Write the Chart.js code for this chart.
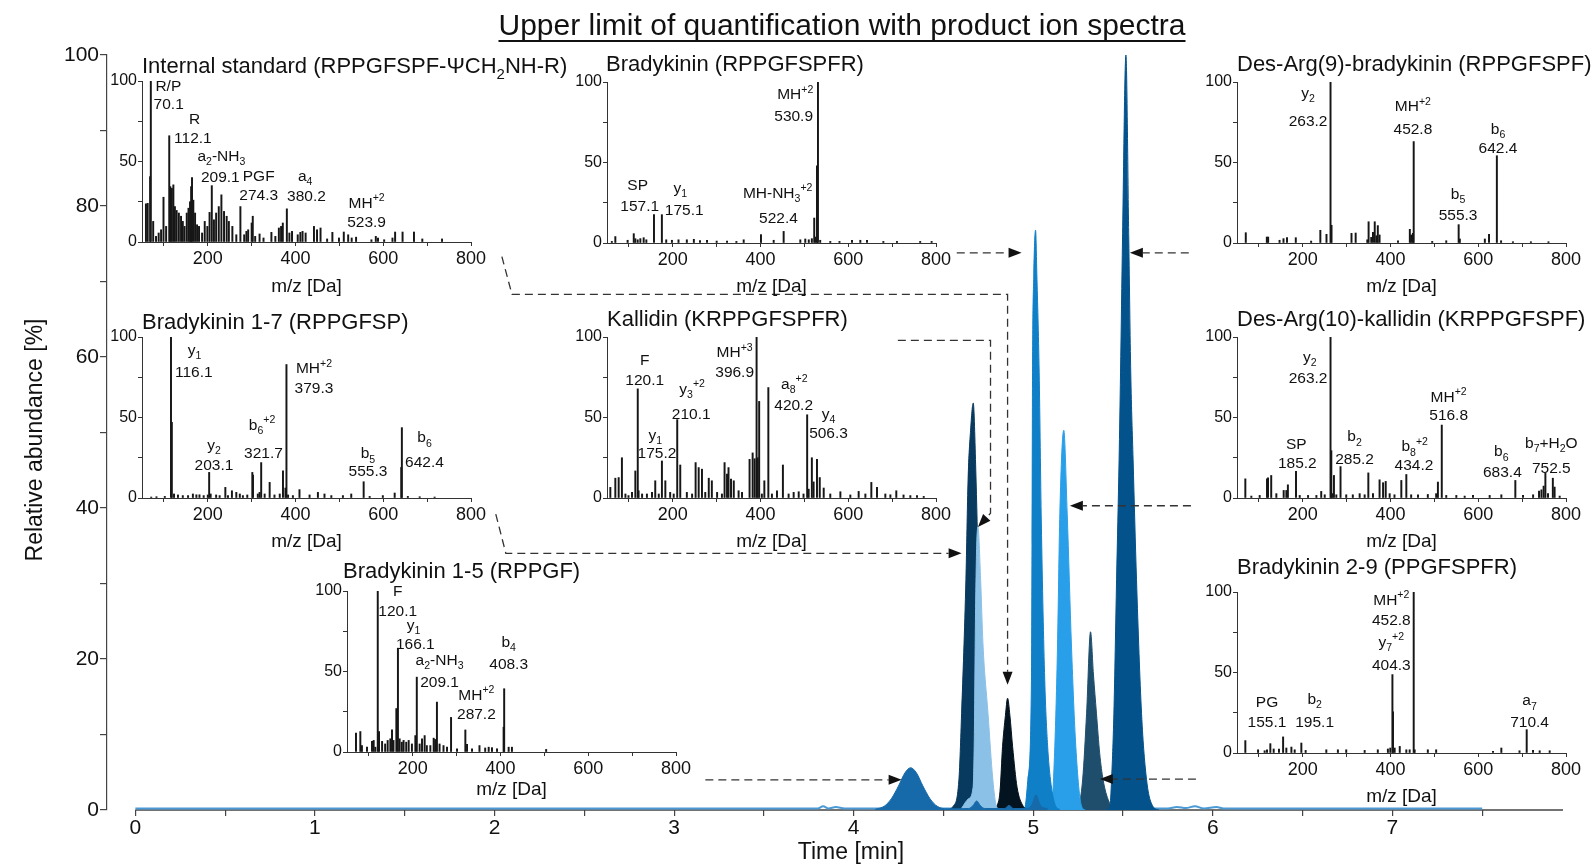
<!DOCTYPE html>
<html>
<head>
<meta charset="utf-8">
<script src="https://cdn.jsdelivr.net/npm/chart.js@4/dist/chart.umd.min.js"></script>
<style>
  body { margin: 0; background: #fff; }
  #wrap { position: relative; width: 1596px; height: 866px; overflow: hidden; }
  #wrap canvas { position: absolute; }
</style>
</head>
<body>
<div id="wrap"><canvas id="main" width="1596" height="866" style="left:0;top:0"></canvas></div>
<script>
// chromatogram traces, [time (min), relative abundance (%)]
const baseTrace = [[0,0.2],[3.8,0.2],[3.83,0.5],[3.86,0.2],[3.9,0.4],[3.95,0.2],[5.75,0.2],[5.8,0.4],[5.85,0.25],[5.9,0.5],[5.95,0.2],[6.02,0.4],[6.06,0.2],[7.5,0.2]];
const bk15Trace = [[4.12,0.1],[4.17,0.5],[4.21,1.5],[4.25,3.2],[4.285,4.9],[4.317,5.6],[4.35,4.9],[4.385,3.2],[4.425,1.5],[4.465,0.5],[4.52,0.15],[4.64,0.2],[4.665,0.6],[4.685,1.2],[4.705,0.6],[4.73,0.2],[4.84,0.2],[4.865,0.6],[4.89,0.2],[4.97,0.2],[4.995,0.8],[5.015,2.0],[5.04,0.6],[5.08,0.15]];
const kalTrace = [[4.6,0.2],[4.64,1.5],[4.665,3],[4.672,10],[4.678,25],[4.685,35],[4.692,37.5],[4.707,30.5],[4.72,22],[4.748,12.8],[4.775,4],[4.795,0.5],[4.82,0]];
const bk17Trace = [[4.52,0],[4.554,0.5],[4.586,4],[4.601,12.8],[4.625,30.5],[4.637,43.7],[4.651,50.3],[4.666,53.9],[4.68,45],[4.695,31],[4.715,14],[4.74,4.5],[4.77,0.8],[4.8,0]];
const isTrace = [[4.78,0],[4.797,0.5],[4.815,2.5],[4.829,8.4],[4.845,12.5],[4.857,14.8],[4.87,12.5],[4.885,8.4],[4.91,3],[4.944,0.5],[4.97,0]];
const bkTrace = [[4.93,0],[4.953,0.3],[4.97,4],[4.99,17.2],[4.993,35],[4.996,57.9],[5.003,71],[5.013,76.8],[5.02,71],[5.033,57.9],[5.045,38],[5.064,17.2],[5.08,8.5],[5.096,4],[5.12,0.8],[5.15,0]];
const da10Trace = [[5.08,0],[5.102,0.5],[5.12,8.4],[5.135,21.6],[5.148,39.3],[5.17,50.3],[5.189,39.3],[5.213,21.6],[5.237,8.4],[5.269,0.5],[5.29,0]];
const bk29Trace = [[5.23,0],[5.248,0.3],[5.275,4],[5.297,12.8],[5.319,23.6],[5.335,18],[5.352,12.8],[5.37,7.5],[5.389,4],[5.42,1.2],[5.454,0.3],[5.48,0]];
const da9Trace = [[5.4,0],[5.427,0.5],[5.436,4],[5.449,12.8],[5.464,30.5],[5.478,46.4],[5.486,57.9],[5.497,75.5],[5.516,100],[5.532,75.5],[5.543,57.9],[5.556,46.4],[5.575,30.5],[5.603,12.8],[5.631,4],[5.666,0.5],[5.7,0]];

const timeTicks = [0,0.5,1,1.5,2,2.5,3,3.5,4,4.5,5,5.5,6,6.5,7,7.5];
const abundTicks = [0,10,20,30,40,50,60,70,80,90,100];
const mzTicks = [100,200,300,400,500,600,700,800];
const relTicks = [0,25,50,75,100];

// product ion spectra, [m/z, relative intensity]
const isSpec = [[59,23.7],[63,24],[68.5,40.6],[70.1,100],[75.5,12.8],[82,3.5],[88,5.6],[93.5,7.6],[99,27.8],[105,9.7],[112.1,66],[114.5,34.4],[118,33.4],[121.5,35.5],[125,22],[129,19.6],[134,18],[139,16],[143,12.8],[147,9.7],[152,18],[156,21],[159.5,25],[162,34.4],[164,40],[167,26],[171,18],[175.5,10.7],[180,9.7],[187,5.6],[193,12.8],[199,9.7],[204,18.4],[209.1,35],[214,13.8],[219,18],[225,22],[231,29.3],[237,19],[243,16],[248,12.8],[256,9.7],[265,4.5],[274.3,22],[283,4.5],[288,6.6],[292,7.6],[300,11.8],[302.5,16],[308,3.5],[318,5],[327,2.5],[345,6],[354,3.5],[362,8.7],[367,9.7],[371,11.8],[380.2,20.6],[386,5.6],[392,6.6],[405,4.5],[411,6],[416,6.6],[423,5.6],[442,9.7],[449,7.6],[457,8.7],[472,1.9],[484,6],[499,2.5],[510,6.2],[520,4.5],[528,2.5],[538,3],[573,1.4],[583,3.5],[588,2.5],[602,1.4],[621,2.5],[627,6.2],[644,6.2],[670,6.2],[689,1.9],[734,1.9]];
const bkSpec = [[61,1],[69,4],[97,1.7],[111,5.8],[114.6,2.7],[120,2],[126,2.7],[133.6,3.3],[139.7,2],[157.1,17.6],[175.1,17.6],[185,2],[198,1.7],[213,2],[232,2],[248,2.3],[262,1.5],[278,1.7],[300,1.2],[323.6,1.2],[345,1],[361.6,2],[401,5.2],[430,1.7],[452.7,7.2],[490.7,2],[502,2.5],[510,2],[517,2.7],[522.4,15.5],[525.7,3.7],[528.7,48],[530.9,100],[536,1.7],[559,1],[580,1],[608.5,1.7],[627.5,1.7],[642.7,1.7],[680,1],[711,1],[764,1],[790,1]];
const da9Spec = [[70,6.4],[118,3.7],[121,3.7],[147,1.7],[156,2.7],[164,3.3],[184,3.3],[219,1.2],[240,7.9],[254,5.4],[263.2,100],[265.5,11],[311,6],[320.5,6.2],[347,2],[350,13.2],[356,3.5],[360,6.6],[364,13.2],[368,4.5],[371,10.8],[375,5],[417,1.4],[444,8.5],[447,5],[451,6],[452.8,63],[495,1],[527,1.4],[555.3,11.4],[558,2.5],[615,2.5],[624.5,5.4],[642.4,54.2],[652,1.4],[679,0.8],[720,0.8],[760,0.8]];
const bk17Spec = [[71,0.6],[83,0.8],[102,1],[116.1,100],[118,47],[123,2.5],[132,1.9],[143,1.5],[155,1.5],[166,2.5],[174,2],[181,2],[190.6,1.5],[200,1.9],[203.1,15.9],[206.5,2.5],[219,1.9],[227,1.5],[240,6.6],[246,1.5],[255,4.5],[265,3.5],[273,2.5],[280,1.5],[290,1.9],[301.5,15.9],[303,14.2],[314,2.5],[318,3.5],[321.7,22],[329.6,2.5],[341,9.7],[352,1.9],[364,2.5],[371.4,16.9],[377,6.2],[379.3,82.9],[383,1.9],[394,1.5],[409,5.2],[432,1.9],[451,3.5],[466,2.5],[481.6,1.5],[508,1.5],[527,2.5],[555.3,10.1],[569,1],[599,1.5],[626,3.1],[641,19],[642.4,43.7],[656,1],[683,0.8],[717,0.6]];
const kalSpec = [[57.6,6.6],[69,12.3],[76.6,12.7],[84,25],[92,2.5],[99,1.5],[107,3.5],[114.6,16.8],[120.1,67.8],[122,4.5],[130,2.5],[141,2.5],[152.6,3.5],[160,10.7],[168,2.5],[175.2,23],[183,10.7],[194,3.5],[202,2.5],[210.1,48.7],[217,20.5],[232,3.5],[244,2.5],[252,22],[259,18.9],[266.5,17.9],[274,3.5],[282,12.3],[289,10.7],[301,3.5],[312,2.5],[318,22],[323.6,14.8],[327,18.9],[332.7,11.7],[339,10.7],[350,4.5],[357.8,3.5],[375,24],[382,28],[386.6,24.4],[391,100],[393.5,25],[396.9,60],[403,2.5],[408.7,10.7],[417.8,68.6],[426,2.5],[437.5,4.5],[451,20.5],[464,2.5],[475.5,3.5],[487,3.9],[498,2.5],[506.3,51.7],[509.7,5.5],[517,25],[521,10],[528.7,24],[535,12.7],[544,6.2],[559,2.5],[582,3.9],[604.7,1.9],[623.7,4.1],[639,2.5],[652.6,9.7],[665.5,6.6],[684.5,2.5],[696,2],[709.5,4.5],[726,1.9],[741.5,1.5],[756.7,1.5],[772,1]];
const da10Spec = [[69,11.9],[82.7,1.2],[101.7,1.6],[118.4,11.9],[120.7,12.6],[128,14],[139.7,2.7],[156.4,4.7],[162.5,4.7],[166,8.2],[184.5,16.5],[193,1.6],[212,1.6],[231,1.6],[242,4.1],[250,2],[263.2,100],[265,29.4],[267,2.7],[271,14],[276.4,2],[286,19.5],[299,2],[314,2],[329.6,2.7],[341,2],[349.4,15.6],[360,2.7],[375,11.3],[383,9.5],[389,10.3],[398,2.7],[409,2],[424.6,10.9],[436,14.6],[447,2],[462.6,2],[485,2.2],[504,2.7],[508,9.9],[516.8,45.3],[527,1.6],[550,1.6],[569,1.2],[588,1.6],[626,1.6],[652.6,2],[684.5,10.9],[702,1.6],[725,2],[738.5,4.3],[744,5.1],[749,7.4],[753,15.6],[759,2.7],[770,12.3],[774,6.8],[785.6,1.2]];
const bk15Spec = [[70.5,11.7],[80.4,12.7],[84,4],[95.6,3],[107,6.6],[110.8,7.2],[114.6,3],[120.1,100],[123,12.7],[130,6.6],[137,5],[142.7,7.2],[148.8,8.2],[152.6,13.7],[156,7.2],[162.5,27],[166.1,64.5],[170,8.2],[175,6.1],[179,7.2],[185,6.1],[190.6,7.2],[198,5],[205.8,10.2],[209.1,46.5],[215.6,5],[221,8.2],[227,10.2],[232,4],[240,4],[247.6,8.6],[251,7.8],[255,31],[261,5],[270,4],[278,3],[287.2,21.5],[300.8,2],[319.8,13.7],[323.6,4.7],[335,2],[352,4],[365,2.5],[373,3],[380.5,2.7],[392,2],[407,15.4],[408.3,39.3],[418.5,3],[426,3],[504,1.6]];
const bk29Spec = [[69,7.7],[98,2],[113,1.4],[118.4,2],[126,5.8],[133.6,2.5],[145.7,2.5],[155.1,10],[162.5,3.1],[174,3.7],[181.5,2],[196.7,6.2],[206.5,1.6],[253.6,2],[280,2],[299,2],[341,1.6],[371,2],[394,2.5],[399.5,3.1],[404.3,48.7],[405.6,25.5],[409.4,3.1],[421,4.1],[436,2],[443.6,2],[452.8,100],[455,2],[485,2],[504,2],[633.6,1],[652.6,3.1],[694,1.4],[710.4,14.5],[724.8,1.6],[740,1.4],[762.8,1.4]];

const FONT = '"Liberation Sans", Arial, Helvetica, sans-serif';
Chart.defaults.font.family = FONT;
Chart.defaults.color = '#111';

const toXY = arr => arr.map(p => ({ x: p[0], y: p[1] }));

// text with _sub and ^{sup}
function parseRich(s) {
  const out = [];
  let i = 0;
  while (i < s.length) {
    const c = s[i];
    if (c === '_' || c === '^') {
      let t;
      if (s[i + 1] === '{') { const j = s.indexOf('}', i); t = s.slice(i + 2, j); i = j + 1; }
      else { t = s[i + 1]; i += 2; }
      out.push({ t, m: c === '_' ? 'sub' : 'sup' });
    } else {
      let j = i;
      while (j < s.length && s[j] !== '_' && s[j] !== '^') j++;
      out.push({ t: s.slice(i, j), m: 'n' });
      i = j;
    }
  }
  return out;
}
function drawRich(ctx, s, x, cy, size, align) {
  const segs = parseRich(s);
  let w = 0;
  segs.forEach(g => {
    g.size = g.m === 'n' ? size : size * 0.68;
    ctx.font = g.size + 'px ' + FONT;
    g.w = ctx.measureText(g.t).width;
    w += g.w;
  });
  let cx = align === 'left' ? x : x - w / 2;
  const base = cy + size * 0.36;
  ctx.textAlign = 'left';
  ctx.textBaseline = 'alphabetic';
  segs.forEach(g => {
    ctx.font = g.size + 'px ' + FONT;
    const dy = g.m === 'sub' ? size * 0.28 : g.m === 'sup' ? -size * 0.42 : 0;
    ctx.fillText(g.t, cx, base + dy);
    cx += g.w;
  });
}

// connectors between spectra and peaks, in data units of the main chart
const links = [
  [[2.041,73.3],[2.097,68.3],[4.857,68.3],[4.857,16.6]],
  [[4.574,73.8],[4.935,73.8]],
  [[5.866,73.8],[5.538,73.8]],
  [[4.246,62.2],[4.762,62.2],[4.762,39.3],[4.692,37.5]],
  [[2.007,39.2],[2.063,34.0],[4.601,34.0]],
  [[5.878,40.3],[5.204,40.3]],
  [[3.174,4.0],[4.267,4.0]],
  [[5.906,4.1],[5.371,4.1]]
];

function drawLink(ctx, pts) {
  const n = pts.length;
  const [x1, y1] = pts[n - 2], [x2, y2] = pts[n - 1];
  const a = Math.atan2(y2 - y1, x2 - x1);
  const L = 13, H = 5;
  const bx = x2 - L * Math.cos(a), by = y2 - L * Math.sin(a);
  ctx.setLineDash([8, 5]);
  ctx.beginPath();
  ctx.moveTo(pts[0][0], pts[0][1]);
  for (let i = 1; i < n - 1; i++) ctx.lineTo(pts[i][0], pts[i][1]);
  ctx.lineTo(bx, by);
  ctx.stroke();
  ctx.setLineDash([]);
  ctx.beginPath();
  ctx.moveTo(x2, y2);
  ctx.lineTo(bx + H * Math.sin(a), by - H * Math.cos(a));
  ctx.lineTo(bx - H * Math.sin(a), by + H * Math.cos(a));
  ctx.closePath();
  ctx.fill();
}

const mainDecor = {
  id: 'mainDecor',
  beforeDatasetsDraw(chart) {
    const { ctx, chartArea: a, scales: { x } } = chart;
    ctx.save();
    ctx.strokeStyle = '#444';
    ctx.lineWidth = 1.5;
    ctx.beginPath();
    ctx.moveTo(x.getPixelForValue(0), a.bottom);
    ctx.lineTo(a.right, a.bottom);
    ctx.stroke();
    ctx.restore();
  },
  afterDraw(chart) {
    const { ctx, scales: { x, y } } = chart;
    ctx.save();
    ctx.fillStyle = '#111';
    ctx.strokeStyle = '#111';
    // title, underlined
    const title = 'Upper limit of quantification with product ion spectra';
    ctx.font = '30px ' + FONT;
    ctx.textAlign = 'center';
    ctx.textBaseline = 'middle';
    ctx.fillText(title, 842, 27);
    const tw = ctx.measureText(title).width;
    ctx.lineWidth = 1.8;
    ctx.beginPath();
    ctx.moveTo(842 - tw / 2, 41);
    ctx.lineTo(842 + tw / 2, 41);
    ctx.stroke();
    // axis titles
    ctx.font = '23px ' + FONT;
    ctx.fillText('Time [min]', 851, 853);
    ctx.save();
    ctx.translate(36, 440);
    ctx.rotate(-Math.PI / 2);
    ctx.fillText('Relative abundance [%]', 0, 0);
    ctx.restore();
    // connectors
    ctx.strokeStyle = '#333';
    ctx.fillStyle = '#111';
    ctx.lineWidth = 1.3;
    links.forEach(l => drawLink(ctx, l.map(p => [x.getPixelForValue(p[0]), y.getPixelForValue(p[1])])));
    ctx.restore();
  }
};

// first listed is drawn on top
const traces = [
  { d: bk15Trace, c: '#176aa9' },
  { d: kalTrace, c: '#8cc1e7' },
  { d: bk17Trace, c: '#08395f' },
  { d: isTrace, c: '#03131f' },
  { d: bkTrace, c: '#0f7fc8' },
  { d: da10Trace, c: '#2a9fe9' },
  { d: da9Trace, c: '#03528b' },
  { d: bk29Trace, c: '#1f4e6d' }
];
const datasets = traces.map(t => ({
  data: toXY(t.d), borderColor: t.c, backgroundColor: t.c, borderWidth: 1,
  fill: 'origin', pointRadius: 0, cubicInterpolationMode: 'monotone'
}));
datasets.push({
  data: toXY(baseTrace), borderColor: '#4a9ad6', borderWidth: 2, fill: false,
  pointRadius: 0, cubicInterpolationMode: 'monotone'
});

new Chart(document.getElementById('main'), {
  type: 'line',
  data: { datasets },
  options: {
    responsive: false, animation: false, devicePixelRatio: 1,
    layout: { padding: { top: 55, right: 33, left: 0, bottom: 0 } },
    plugins: { legend: { display: false }, tooltip: { enabled: false } },
    scales: {
      x: {
        type: 'linear', min: -0.158, max: 7.95,
        border: { display: false },
        grid: { drawOnChartArea: false, tickLength: 6, color: '#444', lineWidth: 1.2 },
        afterBuildTicks: s => { s.ticks = timeTicks.map(v => ({ value: v })); },
        ticks: { font: { size: 21 }, padding: 0, maxRotation: 0, autoSkip: false,
          callback: v => Number.isInteger(v) ? v : '' },
        afterFit: s => { s.height = 56; }
      },
      y: {
        min: 0, max: 100,
        border: { color: '#444', width: 1.2 },
        grid: { drawOnChartArea: false, tickLength: 7, color: '#444', lineWidth: 1.2 },
        afterBuildTicks: s => { s.ticks = abundTicks.map(v => ({ value: v })); },
        ticks: { font: { size: 21 }, padding: 1, callback: v => v % 20 === 0 ? v : '' },
        afterFit: s => { s.width = 107; }
      }
    }
  },
  plugins: [mainDecor]
});

// inset spectra: plot-area corner in page pixels, title offset from it
const insets = [
  { title: 'Internal standard (RPPGFSPF-ΨCH_2NH-R)', spec: isSpec, left: 142, top: 81, tdx: 0, tdy: -16, xt: 43,
    notes: [['R/P',110,97.3],['70.1',110.8,86],['R',170,76.7],['112.1',166,65],['a_2-NH_3',231,54],['209.1',228.6,40.6],['PGF',316,41.6],['274.3',316,29.3],['a_4',422,41.6],['380.2',425,28.9],['MH^{+2}',562,24.7],['523.9',562,12.8]] },
  { title: 'Bradykinin (RPPGFSPFR)', spec: bkSpec, left: 607, top: 82, tdx: -1, tdy: -19, xt: 42,
    notes: [['MH^{+2}',479,92.8],['530.9',475.5,79],['SP',120,36.4],['157.1',124.5,23.4],['y_1',217,34.8],['175.1',226,21],['MH-NH_3^{+2}',439,31.7],['522.4',441,16]] },
  { title: 'Des-Arg(9)-bradykinin (RPPGFSPF)', spec: da9Spec, left: 1237, top: 82, tdx: 0, tdy: -19, xt: 42,
    notes: [['y_2',212,93.6],['263.2',212,76],['MH^{+2}',451,85.3],['452.8',451,71.4],['b_6',645,71.4],['642.4',645,59.4],['b_5',554,30.8],['555.3',554,17.6]] },
  { title: 'Bradykinin 1-7 (RPPGFSP)', spec: bk17Spec, left: 142, top: 337, tdx: 0, tdy: -16, xt: 42,
    notes: [['y_1',170,92.2],['116.1',168,78.8],['MH^{+2}',442,80.8],['379.3',442,68.9],['y_2',214,33.4],['203.1',214,21],['b_6^{+2}',323.6,45.8],['321.7',327,28.2],['b_5',565,28.2],['555.3',565,16.9],['b_6',694,38.1],['642.4',694,23]] },
  { title: 'Kallidin (KRPPGFSPFR)', spec: kalSpec, left: 607, top: 337, tdx: 0, tdy: -19, xt: 42,
    notes: [['F',136,86],['120.1',136,73.7],['y_3^{+2}',244,68.2],['210.1',242,52.8],['y_1',160,39.4],['175.2',164,28.1],['MH^{+3}',341,90.8],['396.9',341,78.4],['a_8^{+2}',477,71.3],['420.2',475.5,57.9],['y_4',555,52.8],['506.3',555,40.9]] },
  { title: 'Des-Arg(10)-kallidin (KRPPGFSPF)', spec: da10Spec, left: 1237, top: 337, tdx: 0, tdy: -19, xt: 42,
    notes: [['y_2',215.7,88],['263.2',212,74.7],['MH^{+2}',532.5,63.4],['516.8',532.5,52],['SP',185,34.2],['185.2',187.5,22.2],['b_2',318,38.7],['285.2',318,24.3],['b_8^{+2}',455,32.5],['434.2',453.5,20.8],['b_6',652.6,29.4],['683.4',655,16.7],['b_7+H_2O',766.6,34.6],['752.5',766.6,18.7]] },
  { title: 'Bradykinin 1-5 (RPPGF)', spec: bk15Spec, left: 347, top: 591, tdx: -4, tdy: -21, xt: 36,
    notes: [['F',165.5,100.4],['120.1',165.5,88],['y_1',202,79.3],['166.1',205.8,67.6],['a_2-NH_3',261,57.8],['209.1',261,44],['MH^{+2}',345,35.9],['287.2',345,24.2],['b_4',418.5,68.6],['408.3',418.5,55.3]] },
  { title: 'Bradykinin 2-9 (PPGFSPFR)', spec: bk29Spec, left: 1237, top: 592, tdx: 0, tdy: -26, xt: 42,
    notes: [['MH^{+2}',401.8,95.6],['452.8',401.8,83.2],['y_7^{+2}',401.8,69.4],['404.3',401.8,54.9],['PG',118.4,32.1],['155.1',118.4,19.7],['b_2',227,34.2],['195.1',227,19.7],['a_7',717,33.1],['710.4',717,19.7]] }
];

const PW = 329, PH = 161, PADL = 60, PADT = 50, PADR = 130, PADB = 60;
const wrap = document.getElementById('wrap');

insets.forEach(cfg => {
  const cv = document.createElement('canvas');
  cv.width = PADL + PW + PADR;
  cv.height = PADT + PH + PADB;
  cv.style.left = (cfg.left - PADL) + 'px';
  cv.style.top = (cfg.top - PADT) + 'px';
  wrap.appendChild(cv);

  const decor = {
    id: 'insetDecor',
    afterDraw(chart) {
      const { ctx, chartArea: a, scales: { x, y } } = chart;
      ctx.save();
      ctx.fillStyle = '#111';
      drawRich(ctx, cfg.title, a.left + cfg.tdx, a.top + cfg.tdy, 22, 'left');
      drawRich(ctx, 'm/z [Da]', (a.left + a.right) / 2, a.bottom + cfg.xt, 19, 'center');
      cfg.notes.forEach(n => drawRich(ctx, n[0], x.getPixelForValue(n[1]), y.getPixelForValue(n[2]), 15.5, 'center'));
      ctx.restore();
    }
  };

  new Chart(cv, {
    type: 'bar',
    data: { datasets: [{ data: toXY(cfg.spec), backgroundColor: '#161616', borderWidth: 0, barThickness: 1.3, grouped: false }] },
    options: {
      responsive: false, animation: false, devicePixelRatio: 1,
      layout: { padding: { left: 0, top: PADT, right: PADR, bottom: 0 } },
      plugins: { legend: { display: false }, tooltip: { enabled: false } },
      scales: {
        x: {
          type: 'linear', min: 50, max: 800, offset: false,
          border: { color: '#333' },
          grid: { offset: false, drawOnChartArea: false, tickLength: 4, color: '#333' },
          afterBuildTicks: s => { s.ticks = mzTicks.map(v => ({ value: v })); },
          ticks: { font: { size: 18 }, padding: 2, maxRotation: 0, autoSkip: false,
            callback: v => v % 200 === 0 ? v : '' },
          afterFit: s => { s.height = PADB; }
        },
        y: {
          min: 0, max: 100,
          border: { color: '#333' },
          grid: { drawOnChartArea: false, tickLength: 4, color: '#333' },
          afterBuildTicks: s => { s.ticks = relTicks.map(v => ({ value: v })); },
          ticks: { font: { size: 16 }, padding: 1, callback: v => v % 50 === 0 ? v : '' },
          afterFit: s => { s.width = PADL; }
        }
      }
    },
    plugins: [decor]
  });
});
</script>
</body>
</html>
